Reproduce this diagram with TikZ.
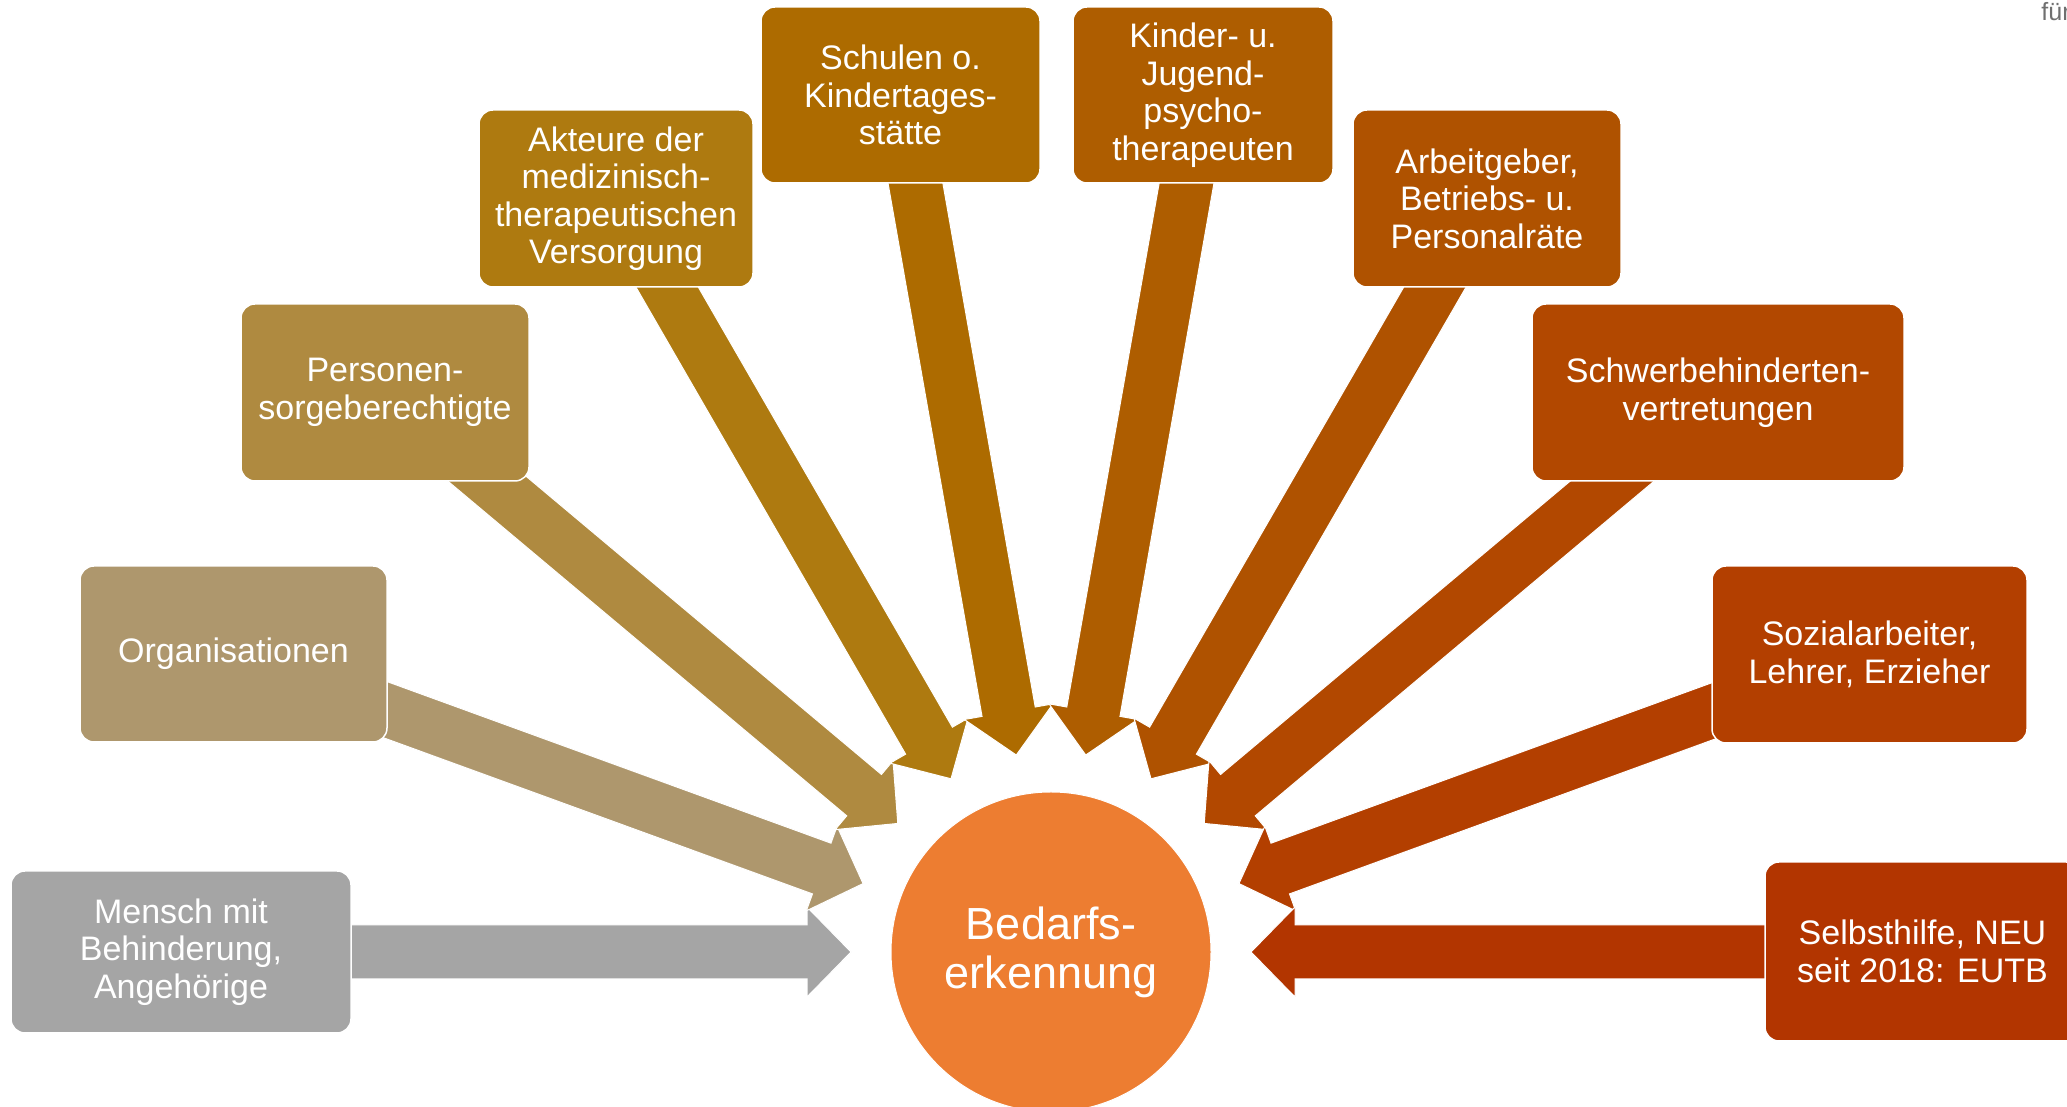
\documentclass[tikz,border=0pt]{standalone}
\usepackage{fontspec}
\setmainfont{Liberation Sans}
\usetikzlibrary{calc}
\definecolor{c1}{HTML}{A5A5A5}
\definecolor{c2}{HTML}{AE976D}
\definecolor{c3}{HTML}{AF8A40}
\definecolor{c4}{HTML}{AE7A10}
\definecolor{c5}{HTML}{AD6B00}
\definecolor{c6}{HTML}{AE5D00}
\definecolor{c7}{HTML}{AF5200}
\definecolor{c8}{HTML}{B24800}
\definecolor{c9}{HTML}{B33F00}
\definecolor{c10}{HTML}{B23500}
\definecolor{corange}{HTML}{ED7D31}
\definecolor{cgraytext}{HTML}{707070}
% block arrow from named coordinate #1 to named tip coordinate #2, colour #3
\newcommand\blockarrow[3]{%
  \coordinate (ba) at ($(#2)!22pt!(#1)$);
  \fill[#3, draw=white, line width=0.5pt, line join=miter]
    ($(#1)!13.5pt!90:(#2)$) -- ($(ba)!13.5pt!90:(#2)$) -- ($(ba)!22.5pt!90:(#2)$)
    -- (#2) -- ($(ba)!22.5pt!-90:(#2)$) -- ($(ba)!13.5pt!-90:(#2)$)
    -- ($(#1)!13.5pt!-90:(#2)$) -- cycle;}
\begin{document}
\begin{tikzpicture}[x=0.5pt,y=0.5pt,
  box/.style={rectangle, rounded corners=7pt, draw=white, line width=0.75pt,
    text=white, align=center, inner sep=0pt,
    font=\fontsize{17pt}{18.75pt}\selectfont},
  hub/.style={circle, fill=corange, draw=white, line width=0.5pt, inner sep=0pt,
    minimum size=160pt, text=white, align=center,
    font=\fontsize{22.5pt}{24.5pt}\selectfont}]
\useasboundingbox (0,0) rectangle (2067,1107);
\clip (0,0) rectangle (2067,1107);
\fill[white] (0,0) rectangle (2067,1107);
\coordinate (C) at (1051,155);
\foreach \i/\a/\r in {1/180/750, 2/160/760, 3/140/800, 4/120/830, 5/100/850,
                      6/80/850, 7/60/830, 8/40/800, 9/20/760, 10/0/750}{
  \coordinate (s\i) at ($(C)+(\a:\r)$);
  \coordinate (t\i) at ($(C)+(\a:200)$);
}
% arrows
\blockarrow{s1}{t1}{c1}
\blockarrow{s2}{t2}{c2}
\blockarrow{s3}{t3}{c3}
\blockarrow{s4}{t4}{c4}
\blockarrow{s5}{t5}{c5}
\blockarrow{s6}{t6}{c6}
\blockarrow{s7}{t7}{c7}
\blockarrow{s8}{t8}{c8}
\blockarrow{s9}{t9}{c9}
\blockarrow{s10}{t10}{c10}
% boxes
\node[box, fill=c1, minimum width=170pt, minimum height=81pt] (b1) at (181,155)
  {Mensch mit\\Behinderung,\\Angehörige};
\node[box, fill=c2, minimum width=153.5pt, minimum height=88pt] (b2) at (233.5,453)
  {Organisationen};
\node[box, fill=c3, minimum width=144pt, minimum height=88.5pt] (b3) at (385,714.5)
  {Personen-\\sorgeberechtigte};
\node[box, fill=c4, minimum width=137pt, minimum height=88.5pt] (b4) at (616,908.5)
  {Akteure der\\medizinisch-\\therapeutischen\\Versorgung};
\node[box, fill=c5, minimum width=139.5pt, minimum height=88pt] (b5) at (900.5,1012)
  {Schulen o.\\Kindertages-\\stätte};
\node[box, fill=c6, minimum width=130pt, minimum height=88pt] (b6) at (1203,1012)
  {Kinder- u.\\Jugend-\\psycho-\\therapeuten};
\node[box, fill=c7, minimum width=134pt, minimum height=88.5pt] (b7) at (1487,908.5)
  {Arbeitgeber,\\Betriebs- u.\\Personalräte};
\node[box, fill=c8, minimum width=186pt, minimum height=88.5pt] (b8) at (1718,714.5)
  {Schwerbehinderten-\\vertretungen};
\node[box, fill=c9, minimum width=157.5pt, minimum height=88.5pt] (b9) at (1869.5,452.5)
  {Sozialarbeiter,\\Lehrer, Erzieher};
\node[box, fill=c10, minimum width=157.5pt, minimum height=89.5pt] (b10) at (1922.5,155.5)
  {Selbsthilfe, NEU\\seit 2018: EUTB};
% hub
\node[hub] (bed) at (C) {Bedarfs-\\erkennung};
% cut-off corner text
\node[anchor=base west, inner sep=0pt, text=cgraytext,
  font=\fontsize{12.5pt}{14pt}\selectfont] (fuer) at (2041,1086) {für};
\end{tikzpicture}
\end{document}
